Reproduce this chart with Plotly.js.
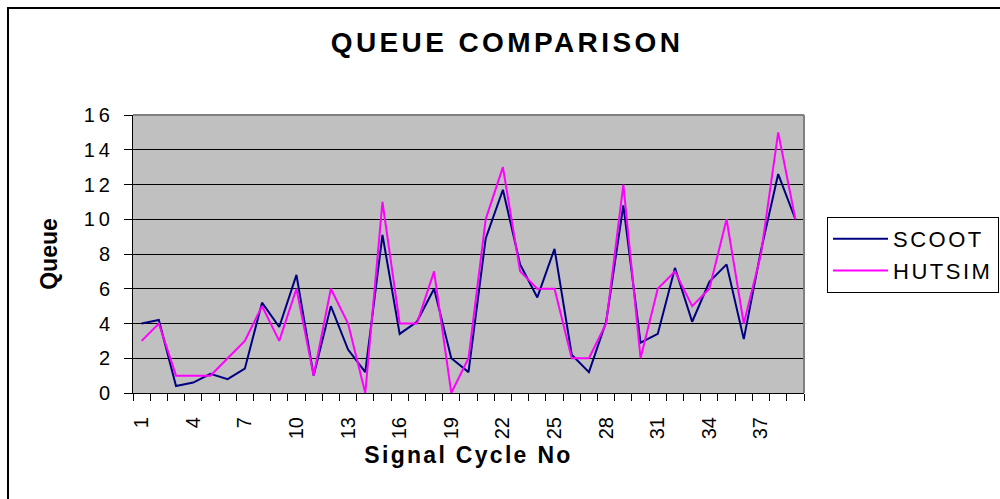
<!DOCTYPE html>
<html>
<head>
<meta charset="utf-8">
<script src="https://cdn.plot.ly/plotly-3.0.1.min.js"></script>
<style>
  html, body { margin: 0; padding: 0; background: #fff; }
  #chart { width: 1000px; height: 499px; }
  .gtitle { letter-spacing: 3.4px; }
  .xtitle { letter-spacing: 2.3px; }
  .legendtext { letter-spacing: 2.5px; }
  .ytick text { letter-spacing: 4px; }
</style>
</head>
<body>
<div id="chart"></div>
<script>
// ---- data ----
const cycles = [1,2,3,4,5,6,7,8,9,10,11,12,13,14,15,16,17,18,19,20,21,22,23,24,25,26,27,28,29,30,31,32,33,34,35,36,37,38,39];
const scoot  = [4.0,4.2,0.4,0.6,1.1,0.8,1.4,5.2,3.8,6.8,1.0,5.0,2.5,1.2,9.1,3.4,4.1,6.0,2.0,1.2,8.9,11.7,7.4,5.5,8.3,2.2,1.2,4.1,10.8,2.9,3.4,7.2,4.1,6.4,7.4,3.1,8.2,12.6,10.0];
const hutsim = [3,4,1,1,1,2,3,5,3,6,1,6,4,0,11,4,4,7,0,2,10,13,7,6,6,2,2,4,12,2,6,7,5,6,10,4,8,15,10];
const xTickVals  = [1,4,7,10,13,16,19,22,25,28,31,34,37];
const xTickText  = ['1','4','7','10','13','16','19','22','25','28','31','34','37'];
const seriesNames = ['SCOOT','HUTSIM'];
const chartTitle = 'QUEUE COMPARISON';
const xTitle = 'Signal Cycle No';
const yTitle = 'Queue';

// ---- layout geometry ----
const W = 1000, H = 499;
const M = {l: 133, r: 196, t: 115, b: 106};
const PW = W - M.l - M.r, PH = H - M.t - M.b;
const px = x => (x - M.l) / PW;
const py = y => (H - M.b - y) / PH;
const FONT = '"Liberation Sans", Arial, sans-serif';

const traces = [
  {x: cycles, y: scoot, name: seriesNames[0], type: 'scatter', mode: 'lines',
   line: {color: '#000080', width: 2}, legendgroup: 'a'},
  {x: cycles, y: hutsim, name: seriesNames[1], type: 'scatter', mode: 'lines',
   line: {color: '#FF00FF', width: 2}, legendgroup: 'b'}
];

const layout = {
  width: W, height: H,
  margin: M,
  paper_bgcolor: '#ffffff',
  plot_bgcolor: '#C0C0C0',
  font: {family: FONT, color: '#000'},
  title: {
    text: chartTitle,
    font: {family: FONT, size: 28, weight: 'bold', color: '#000'},
    x: 0.507, xref: 'container', xanchor: 'center',
    y: 1 - 42 / H, yref: 'container', yanchor: 'middle'
  },
  xaxis: {
    range: [0.5, 39.5],
    tickmode: 'array', tickvals: xTickVals, ticktext: xTickText,
    tickangle: -90,
    ticks: '',
    ticklabelstandoff: 15,
    tickfont: {family: FONT, size: 20, color: '#000'},
    minor: {tickmode: 'linear', tick0: 0.5, dtick: 1, ticks: 'outside', ticklen: 7,
            tickcolor: '#000', tickwidth: 1, showgrid: false},
    showgrid: false, zeroline: false,
    showline: true, linecolor: '#000', linewidth: 1,
    title: {text: xTitle, font: {family: FONT, size: 23, weight: 'bold', color: '#000'}, standoff: 8},
    fixedrange: true
  },
  yaxis: {
    range: [0, 16], dtick: 2, tick0: 0,
    ticks: 'outside', ticklen: 8, tickcolor: '#000', tickwidth: 1,
    ticklabelstandoff: 6,
    tickfont: {family: FONT, size: 20, color: '#000'},
    showgrid: true, gridcolor: '#000', gridwidth: 1,
    zeroline: false,
    showline: true, linecolor: '#000', linewidth: 1,
    title: {text: yTitle, font: {family: FONT, size: 23, weight: 'bold', color: '#000'}, standoff: 19},
    fixedrange: true
  },
  showlegend: true,
  legend: {
    xref: 'container', yref: 'container',
    x: 827 / W, xanchor: 'left', y: 1 - 217 / H, yanchor: 'top',
    bgcolor: '#fff', bordercolor: '#000', borderwidth: 1,
    font: {family: FONT, size: 22, color: '#000'},
    itemwidth: 55, tracegroupgap: 8, traceorder: 'normal'
  },
  shapes: [
    // grey top and right border of the plot area
    {type: 'line', xref: 'paper', yref: 'paper', x0: 0, x1: 1, y0: 1, y1: 1, line: {color: '#808080', width: 2}},
    {type: 'line', xref: 'paper', yref: 'paper', x0: 1, x1: 1, y0: 0, y1: 1, line: {color: '#808080', width: 2}},
    // outer chart frame
    {type: 'rect', xref: 'paper', yref: 'paper', x0: px(8), x1: px(1020), y0: py(8), y1: py(520),
     line: {color: '#000', width: 2}, fillcolor: 'rgba(0,0,0,0)'}
  ]
};

Plotly.newPlot('chart', traces, layout, {staticPlot: true, displayModeBar: false});
</script>
</body>
</html>
